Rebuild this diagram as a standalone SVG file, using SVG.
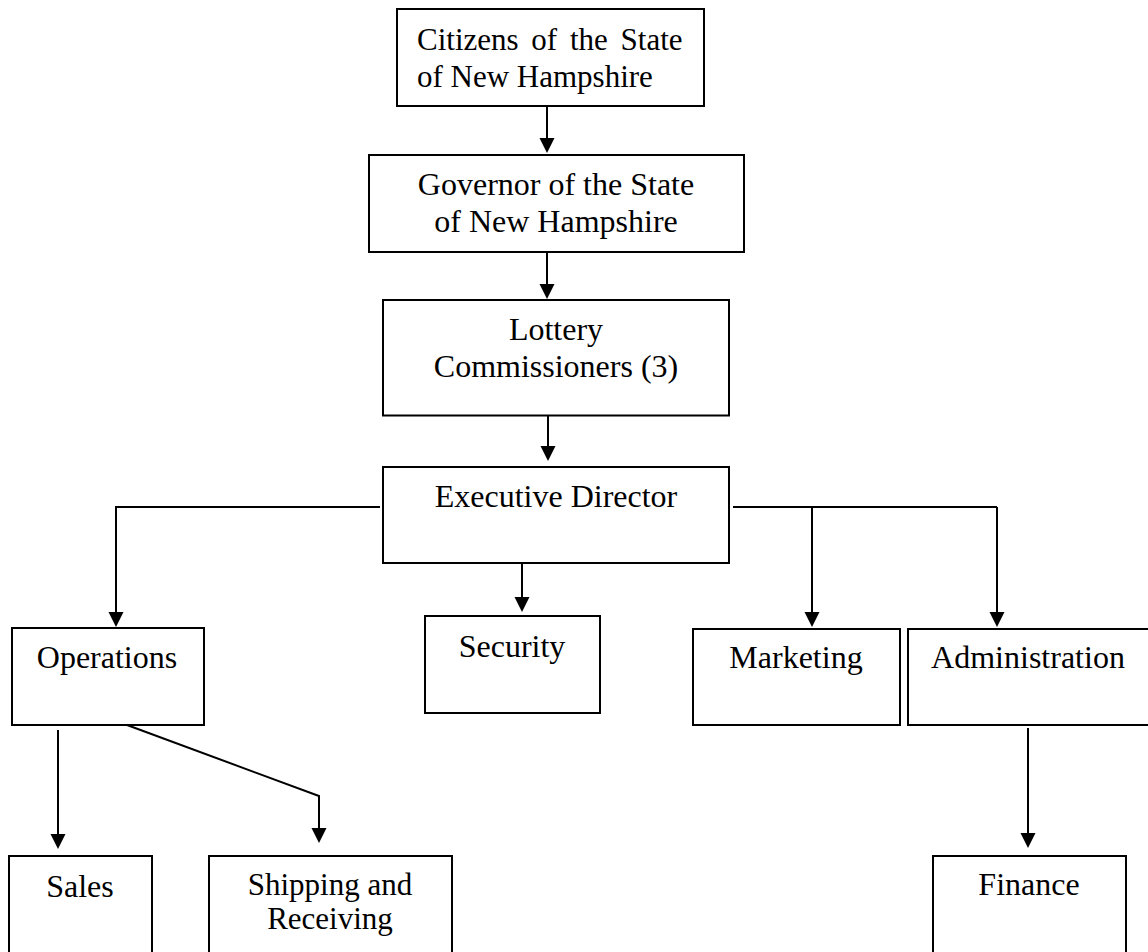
<svg xmlns="http://www.w3.org/2000/svg" width="1148" height="952" viewBox="0 0 1148 952">
<style>
  .box { fill: #ffffff; stroke: #000000; stroke-width: 2; }
  .lbl { font-family: "Liberation Serif", "Times New Roman", serif; font-size: 32px; fill: #000000; text-anchor: middle; }
  .conn { fill: none; stroke: #000000; stroke-width: 2; marker-end: url(#arrow); }
  .plain { fill: none; stroke: #000000; stroke-width: 2; }
</style>
<defs>
  <marker id="arrow" markerUnits="userSpaceOnUse" markerWidth="16" markerHeight="16" viewBox="0 0 16 16" refX="7" refY="7.5" orient="auto">
    <path d="M0,0 L15,7.5 L0,15 z" fill="#000000"/>
  </marker>
</defs>
<rect x="0" y="0" width="1148" height="952" fill="#ffffff"/>

<g id="connectors">
  <path class="conn" d="M547,106 V145"/>
  <path class="conn" d="M547,252 V291"/>
  <path class="conn" d="M548,416 V453"/>
  <path class="conn" d="M380,507 H116 V619"/>
  <path class="plain" d="M733,507 H997"/>
  <path class="conn" d="M997,507 V619"/>
  <path class="conn" d="M812,507 V619"/>
  <path class="conn" d="M522,563 V604"/>
  <path class="conn" d="M58,730 V841"/>
  <path class="conn" d="M127,725 L319,796 V835"/>
  <path class="conn" d="M1028,728 V840"/>
</g>

<g id="citizens">
  <rect class="box" x="397" y="9" width="307" height="97"/>
  <text class="lbl" style="text-anchor:start;font-size:31px" x="417" y="50" word-spacing="5">Citizens of the State</text>
  <text class="lbl" style="text-anchor:start;font-size:31px" x="417" y="87">of New Hampshire</text>
</g>
<g id="governor">
  <rect class="box" x="369" y="155" width="375" height="97"/>
  <text class="lbl" x="556" y="195">Governor of the State</text>
  <text class="lbl" x="556" y="232">of New Hampshire</text>
</g>
<g id="lottery">
  <rect class="box" x="383" y="300" width="346" height="115.5"/>
  <text class="lbl" x="556" y="340">Lottery</text>
  <text class="lbl" x="556" y="377">Commissioners (3)</text>
</g>
<g id="executive">
  <rect class="box" x="383" y="467" width="346" height="96"/>
  <text class="lbl" x="556" y="507">Executive Director</text>
</g>
<g id="operations">
  <rect class="box" x="12" y="628" width="192" height="97"/>
  <text class="lbl" x="107" y="668">Operations</text>
</g>
<g id="security">
  <rect class="box" x="425" y="616" width="175" height="97"/>
  <text class="lbl" x="512" y="657">Security</text>
</g>
<g id="marketing">
  <rect class="box" x="693" y="629" width="207" height="96"/>
  <text class="lbl" x="796" y="668">Marketing</text>
</g>
<g id="administration">
  <rect class="box" x="908" y="629" width="242" height="96"/>
  <text class="lbl" x="1028" y="668">Administration</text>
</g>
<g id="sales">
  <rect class="box" x="9" y="856" width="143" height="97"/>
  <text class="lbl" x="80" y="897">Sales</text>
</g>
<g id="shipping">
  <rect class="box" x="209" y="856" width="243" height="97"/>
  <text class="lbl" style="font-size:31px" x="330" y="895">Shipping and</text>
  <text class="lbl" style="font-size:31px" x="330" y="929">Receiving</text>
</g>
<g id="finance">
  <rect class="box" x="933" y="856" width="193" height="97"/>
  <text class="lbl" x="1029" y="895">Finance</text>
</g>
</svg>
